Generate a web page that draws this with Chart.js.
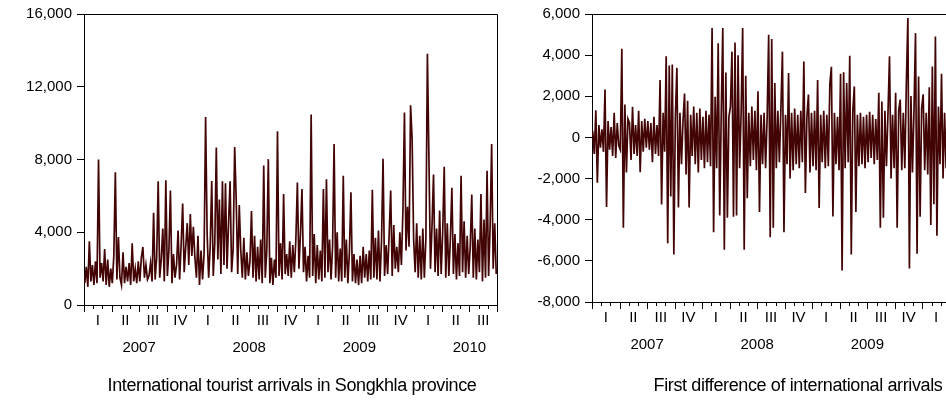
<!DOCTYPE html>
<html>
<head>
<meta charset="utf-8">
<script src="https://cdn.jsdelivr.net/npm/chart.js@4.4.1/dist/chart.umd.min.js"></script>
<style>
  html, body { margin: 0; padding: 0; background: #fff; overflow: hidden; width: 946px; height: 405px; }
  .box { position: absolute; top: 0; height: 405px; }
  #leftBox { left: 0; width: 500px; }
  #rightBox { left: 500px; width: 520px; }
  .caption { position: absolute; top: 375px; font: 18px Arial, "Liberation Sans", sans-serif; letter-spacing: -0.38px;
             color: #000; white-space: nowrap; transform: translateX(-50%); }
</style>
</head>
<body>
<div class="box" id="leftBox"><canvas id="arrivalsChart"></canvas></div>
<div class="box" id="rightBox"><canvas id="diffChart"></canvas></div>
<div class="caption" style="left:292px">International tourist arrivals in Songkhla province</div>
<div class="caption" style="left:798px">First difference of international arrivals</div>
<script>
// axis labels
const quarterNames = ['I', 'II', 'III', 'IV'];
const yearNames = ['2007', '2008', '2009', '2010'];
const PER_MONTH = 6; // readings per month

// International tourist arrivals, 6 readings per month
const arrivals2007 = [
  1200, 2100, 1000, 3500, 1300, 2200,   1100, 2400, 1200, 8000, 1500, 2300,
  1300, 3080, 1100, 2500, 1000, 2000,   1200, 2700, 7300, 1400, 3740, 1500,
  1100, 2900, 1200, 2100, 1300, 2300,   1100, 3400, 1300, 2000, 1200, 2400,
  1300, 2600, 3190, 1500, 2200, 1400,   1600, 2300, 1300, 5070, 1400, 2600,
  6800, 1500, 2500, 4200, 1300, 6860,   1600, 3000, 6290, 1200, 2800, 1500,
  2200, 4100, 1400, 3300, 5580, 1800,   3200, 4500, 2200, 5000, 2700, 4300
];
const arrivals2008 = [
  2600, 1500, 3800, 1100, 3000, 1400,   2800, 10340, 3900, 1500, 3200, 6820,
  1600, 3400, 8660, 2500, 5800, 1700,   6800, 2200, 6700, 2000, 4500, 6800,
  1800, 3100, 8680, 5800, 1700, 5500,   3000, 1500, 3700, 1400, 2900, 1600,
  2400, 5170, 1500, 3800, 1300, 3200,   1400, 3600, 1200, 7670, 1500, 3000,
  8020, 1200, 2600, 1100, 2500, 1500,   9550, 1600, 3400, 1400, 6100, 1700,
  2800, 1600, 3500, 1500, 3300, 1800,   3600, 6740, 2000, 3900, 6380, 1800
];
const arrivals2009 = [
  3200, 1300, 2700, 1500, 10480, 1600,  3900, 1200, 3300, 1400, 3000, 1300,
  6380, 1500, 6910, 1800, 3600, 1400,   3200, 8850, 1500, 4000, 1300, 3100,
  1300, 7100, 1500, 3600, 1200, 2900,   6200, 1300, 2800, 1200, 2500, 1100,
  2700, 1200, 3200, 1500, 2800, 1300,   3000, 1400, 6330, 1500, 3700, 1400,
  4100, 1300, 3500, 8040, 1600, 3300,   1700, 3900, 6300, 1600, 4400, 2000,
  3200, 1800, 4000, 2200, 5200, 10590,  3000, 5400, 3200, 10980, 9120, 3600
];
const arrivals2010 = [
  1800, 4500, 1500, 3800, 1400, 4200,   1500, 3600, 13810, 8040, 2000, 4300,
  7170, 1800, 4200, 1600, 5200, 1700,   4000, 7600, 1500, 4500, 1600, 3600,
  6450, 1700, 3900, 1400, 3400, 1600,   7100, 1800, 4600, 1500, 3800, 1700,
  3200, 6070, 1500, 4200, 1400, 3600,   1800, 6100, 1300, 4700, 1500, 7380,
  1600, 4300, 8850, 2000, 4500, 1700
];

// First difference, 6 readings per month
const diff2007 = [
   300,  -800, 1320, -2200,  600,  -500,    400,  -700, 2330, -3380,  800,  -600,
   500,  -900, 1200, -1000,  700,  -400,   -600,  4310, -4390, 1600, -1700,  900,
   700, -1100, 1490,  -800,  600,  -900,   1300, -1690,  800,  -700,  900,  -500,
   800,  -600,  700, -1200, 1000,  -800,    600,  -900, 2790, -3260, 1200,  -700,
  3940, -5150, 3500, -2870, 3550, -5690,   1000,  3380, -3410, 1200, -1300,  800,
  2130, -1800, 1780, -3410, 1100,  -900,   1500, -1300, 1200, -1700, 1400, -1100
];
const diff2008 = [
  1000, -1500, 1300, -1200, 1100, -1400,   5320, -4610, 1980, -1500, 4580, -3800,
  1200,  5320, -5460, 3160, -3900, 1000,   1500,  4170, -3850, 4610, -3800, 4000,
 -1500,  1200, 5320, -5460, 3000, -2960,   1200, -1400, 1500, -1100, 1300, -1600,
  2250, -3630, 1100, -1300, 1200, -1500,   1000,  4990, -4850, 4790, -4390, 2640,
 -1500,  1300, -1200, 1400, 4170, -4610,   1100, -1300, 3130, -2000, 1200, -1600,
  1400, -1300, 1100, -1500, 1300, -1200,   3690, -2700, 1000, 2080, -1700, 1200
];
const diff2009 = [
 -1400,  1300, -1600, 2790, -3430, 1100,  -1200,  1300, -1500, 1100, -1400, 2610,
  3430, -3840, 1200, -1300, 1000, -1600,   3100, -6470, 3170, -1500, 2640, -1200,
  3970, -5690, 1300, 2480, -3630, 1100,   -1400,  1200, -1300, 1000, -1500, 1100,
 -1200,  1250, -1000, 1100, -1300,  900,  -1100,  2170, -4390, 1740, -3900, 1300,
 -1400,  1200, 3940, -2000, 1100, -1500,   2170, -4390, 1300, 1840, -1600, 1200,
 -1500,  2610, 5800, -6370, 2010, -1700,   1300,  5070, -5660, 2960, -3850, 1400
];
const diff2010 = [
  2100, -1600, 1200, -1800, 2440, -4260,   3450, -3250, 4900, -4780, 1500, -1300,
  3100, -2000, 1200, -1500, 1400, -1600
];

const FONT = 'Arial, "Liberation Sans", sans-serif';
const LINE = '#420404';

function toPoints(values) {
  return values.map((v, i) => ({ x: (i + 0.5) / PER_MONTH, y: v }));
}

// frame, monthly ticks and quarter / year labels under the plot
const timeAxis = {
  id: 'timeAxis',
  afterDraw(chart) {
    const { ctx, chartArea: a, scales: { x } } = chart;
    ctx.save();
    ctx.strokeStyle = '#000';
    ctx.lineWidth = 1;
    ctx.beginPath();
    ctx.moveTo(a.left, a.top + 0.5); ctx.lineTo(a.right + 0.5, a.top + 0.5);
    ctx.lineTo(a.right + 0.5, a.bottom + 0.5); ctx.lineTo(a.left, a.bottom + 0.5);
    for (let m = 0; m <= x.max; m++) {
      const px = Math.round(x.getPixelForValue(m)) + 0.5;
      ctx.moveTo(px, a.bottom);
      ctx.lineTo(px, a.bottom + (m % 3 === 0 ? 7 : 4));
    }
    ctx.stroke();
    ctx.fillStyle = '#000';
    ctx.font = '15px ' + FONT;
    ctx.textAlign = 'center';
    ctx.textBaseline = 'middle';
    for (let q = 0; q * 3 < x.max; q++) {
      ctx.fillText(quarterNames[q % 4], x.getPixelForValue(q * 3 + 1.5), a.bottom + 16);
    }
    yearNames.forEach((yr, i) => {
      ctx.fillText(yr, x.getPixelForValue(i * 12 + 6), a.bottom + 43);
    });
    ctx.restore();
  }
};

function makeChart(id, values, yMin, yMax, step, axisWidth, padRight, bottom) {
  return new Chart(document.getElementById(id), {
    type: 'line',
    data: {
      datasets: [{
        data: toPoints(values),
        borderColor: LINE,
        borderWidth: 1.7,
        pointRadius: 0,
        tension: 0
      }]
    },
    options: {
      responsive: true,
      maintainAspectRatio: false,
      animation: false,
      layout: { padding: { top: 0, right: padRight, bottom: 405 - bottom, left: 0 } },
      plugins: { legend: { display: false }, tooltip: { enabled: false } },
      scales: {
        x: { type: 'linear', min: 0, max: 45, display: false },
        y: {
          min: yMin, max: yMax,
          afterFit: s => { s.width = axisWidth; },
          border: { display: true, color: '#000', width: 1 },
          grid: { display: true, drawOnChartArea: false, drawTicks: true, tickLength: 7, color: '#000' },
          ticks: {
            stepSize: step, padding: 5, color: '#000', font: { family: FONT, size: 15 },
            callback: v => v.toLocaleString('en-US')
          }
        }
      }
    },
    plugins: [timeAxis]
  });
}

const arrivals = [].concat(arrivals2007, arrivals2008, arrivals2009, arrivals2010);
const firstDiff = [].concat(diff2007, diff2008, diff2009, diff2010);

makeChart('arrivalsChart', arrivals, 0, 16000, 4000, 84, 3, 305);
makeChart('diffChart', firstDiff, -8000, 6000, 2000, 92, 15, 302);
</script>
</body>
</html>
